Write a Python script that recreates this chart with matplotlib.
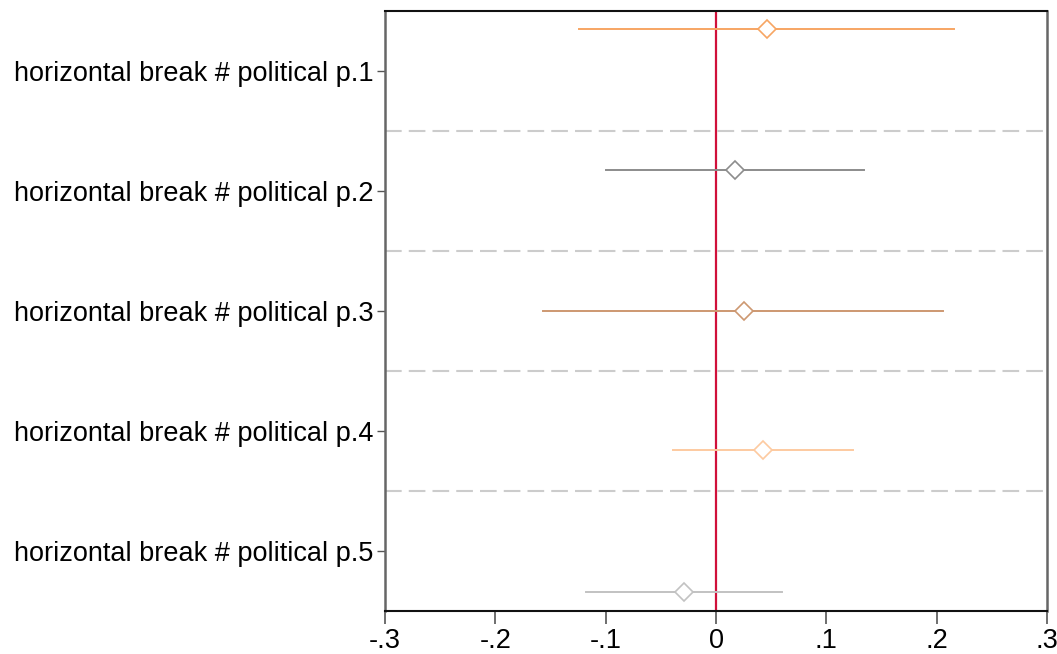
import numpy as np
import matplotlib
matplotlib.use("Agg")
import matplotlib.pyplot as plt

plt.rcParams['font.family'] = ['Liberation Sans', 'DejaVu Sans']

# coefficient estimates and 95% CIs
labels = ["horizontal break # political p.1", "horizontal break # political p.2",
          "horizontal break # political p.3", "horizontal break # political p.4",
          "horizontal break # political p.5"]
coef = [0.046, 0.017, 0.025, 0.043, -0.029]
ci_low = [-0.124, -0.100, -0.157, -0.039, -0.118]
ci_high = [0.216, 0.134, 0.206, 0.124, 0.060]
offsets = [-0.35, -0.175, 0.0, 0.16, 0.34]
colors = ["#f7a563", "#8c8c8c", "#cd9871", "#fdcaa0", "#c2c2c2"]

xticks = [-0.3, -0.2, -0.1, 0.0, 0.1, 0.2, 0.3]
xticklabels = ["-.3", "-.2", "-.1", "0", ".1", ".2", ".3"]

fig = plt.figure(figsize=(10.57, 6.54), dpi=100)
ax = fig.add_axes([385 / 1057, 1 - 611 / 654, 662 / 1057, 600 / 654])

pos = np.arange(1, len(labels) + 1)

# dashed separators between groups
for b in pos[:-1] + 0.5:
    ax.axhline(b, color="#cccccc", lw=1.5, dashes=(8, 3.4), zorder=1)

ax.axvline(0, color="#d0103a", lw=1.6, zorder=2)

for i in range(len(labels)):
    y = pos[i] + offsets[i]
    ax.plot([ci_low[i], ci_high[i]], [y, y], color=colors[i], lw=1.4, zorder=3)
    ax.plot(coef[i], y, marker="D", ms=9.5, mfc="white", mec=colors[i], mew=1.2, zorder=4)

ax.set_ylim(5.5, 0.5)
ax.set_yticks(pos)
ax.set_yticklabels(labels, fontsize=19.5)
ax.tick_params(axis="y", length=5.5, width=1.0, color="#555555", pad=3)

ax.set_xlim(-0.3, 0.3)
ax.set_xticks(xticks)
ax.set_xticklabels(xticklabels, fontsize=19.5)
ax.tick_params(axis="x", length=9, width=1.2, color="#555555", pad=3)

for s in ["left", "right"]:
    ax.spines[s].set_color("#666666")
    ax.spines[s].set_linewidth(1.8)
for s in ["top", "bottom"]:
    ax.spines[s].set_color("#111111")
    ax.spines[s].set_linewidth(1.5)

fig.savefig("out.png", dpi=100)
